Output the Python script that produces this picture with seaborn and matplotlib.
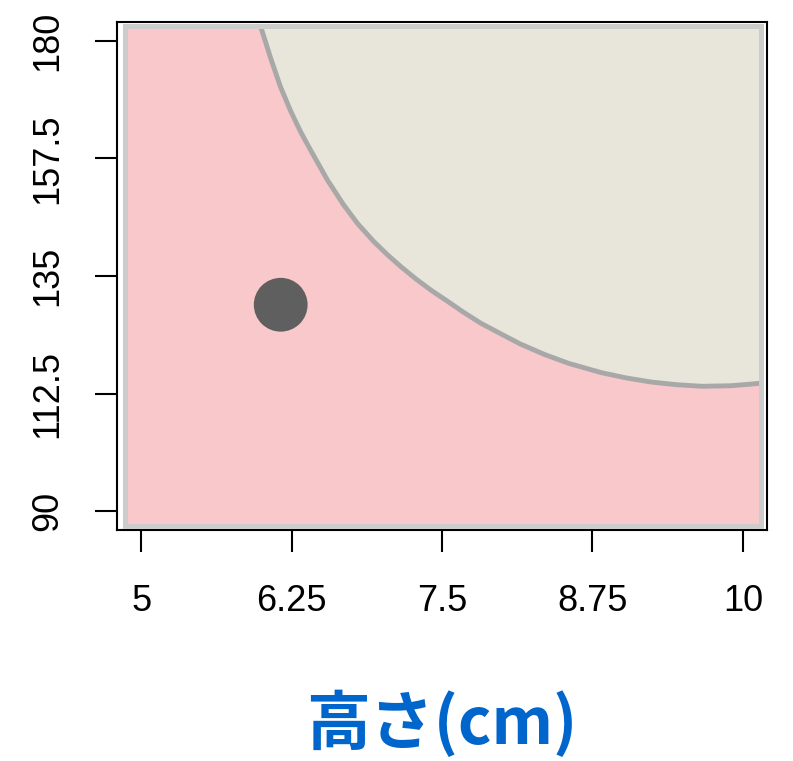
# decision region plot: height vs x, with one sample point
import matplotlib
matplotlib.use("Agg")
import matplotlib.pyplot as plt
from matplotlib.patches import Rectangle
import seaborn as sns
import pandas as pd

# boundary between the two regions
boundary_x = [5.99, 6.075, 6.158, 6.242, 6.325, 6.408, 6.55, 6.683, 6.8, 6.933, 7.05, 7.158,
              7.28, 7.408, 7.55, 7.683, 7.82, 7.967, 8.15, 8.35, 8.55, 8.825, 9.03, 9.24,
              9.45, 9.658, 9.9, 10.158]
boundary_y = [183.0, 176.8, 171.2, 166.6, 162.6, 159.1, 153.3, 148.6, 145.0, 141.6, 139.0, 136.8,
              134.5, 132.3, 130.1, 128.0, 126.0, 124.2, 122.0, 120.0, 118.3, 116.5, 115.5, 114.7,
              114.2, 113.9, 114.0, 114.5]

# extent of the grid that was classified
grid_x = [4.8625, 10.154]
grid_y = [87.18, 182.74]

# the sample point
point_x = [6.16]
point_y = [129.5]

x_ticks = [5, 6.25, 7.5, 8.75, 10]
x_tick_labels = ["5", "6.25", "7.5", "8.75", "10"]
y_ticks = [90, 112.5, 135, 157.5, 180]
y_tick_labels = ["90", "112.5", "135", "157.5", "180"]

sns.set_style("white")
plt.rcParams['font.family'] = ['Liberation Sans', 'DejaVu Sans']

fig = plt.figure(figsize=(7.93, 7.61), dpi=100)
ax = fig.add_axes([117 / 793, 1 - 530 / 761, 650 / 793, 508 / 761])

# pink background region
bg = Rectangle((grid_x[0], grid_y[0]), grid_x[1] - grid_x[0], grid_y[1] - grid_y[0],
               facecolor="#f8c8cb", edgecolor="none", zorder=1)
ax.add_patch(bg)

# beige region above the boundary
bnd = pd.DataFrame({"x": boundary_x, "y": boundary_y})
fill = ax.fill_between(bnd["x"], bnd["y"], grid_y[1] + 5, color="#e8e6da", lw=0, zorder=2)
fill.set_clip_path(bg)

sns.lineplot(data=bnd, x="x", y="y", sort=False, color="#a8a8a8", lw=3.5, ax=ax, zorder=3)
ax.lines[-1].set_clip_path(bg)
ax.lines[-1].set_solid_joinstyle("round")

# light gray frame around the grid
ax.add_patch(Rectangle((grid_x[0], grid_y[0]), grid_x[1] - grid_x[0], grid_y[1] - grid_y[0],
                       facecolor="none", edgecolor="#cccccc", lw=3.6, zorder=4))

pts = pd.DataFrame({"x": point_x, "y": point_y})
sns.scatterplot(data=pts, x="x", y="y", s=1500, color="#5f5f5f", edgecolor="none", ax=ax, zorder=5)

ax.set_xlim(4.8, 10.2)
ax.set_ylim(86.4, 183.6)
ax.set_xticks(x_ticks)
ax.set_xticklabels(x_tick_labels, fontsize=26, color="black")
ax.set_yticks(y_ticks)
ax.set_yticklabels(y_tick_labels, fontsize=26, rotation=90, va="center", color="black")
ax.tick_params(axis="both", bottom=True, left=True, length=16, width=1.5,
               color="black", direction="out")
ax.tick_params(axis="x", pad=23)
ax.tick_params(axis="y", pad=21)
for s in ax.spines.values():
    s.set_color("black")
    s.set_linewidth(1.5)

ax.set_ylabel("")
ax.set_xlabel("高さ(cm)", fontsize=46, fontweight="bold", color="#0066cc",
              family=["Noto Sans CJK JP", "DejaVu Sans"])
ax.xaxis.set_label_coords(0.5, -(724 - 530) / 508)
ax.xaxis.label.set_va("center")

fig.savefig("out.png", dpi=100)
